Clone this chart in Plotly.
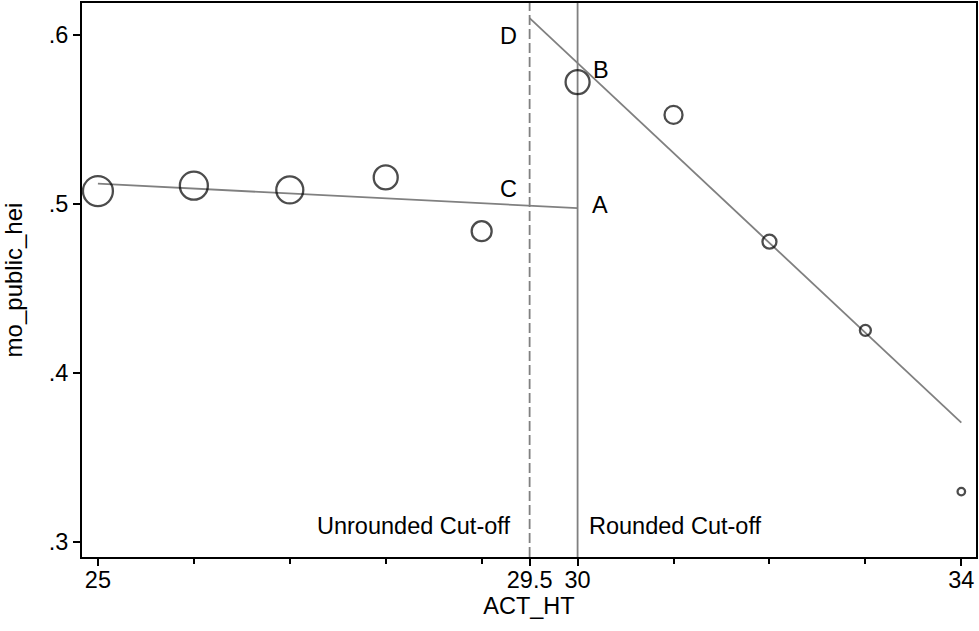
import plotly.graph_objects as go

# ---- data ----
act_ht = [25, 26, 27, 28, 29, 30, 31, 32, 33, 34]
mo_public_hei = [0.5076, 0.5108, 0.5083, 0.5157, 0.4839, 0.5721, 0.5527, 0.4777, 0.4252, 0.3298]
marker_diam = [30, 28, 27, 24, 20, 24, 18, 14, 11, 7.5]

left_fit_x = [25, 30]
left_fit_y = [0.512, 0.4975]
right_fit_x = [29.5, 34]
right_fit_y = [0.6099, 0.3706]

unrounded_cut = 29.5
rounded_cut = 30

x_tickvals = [25, 29.5, 30, 34]
x_ticktext = ["25", "29.5", "30", "34"]
x_minor = [26, 27, 28, 29, 31, 32, 33]
y_tickvals = [0.3, 0.4, 0.5, 0.6]
y_ticktext = [".3", ".4", ".5", ".6"]

labels = [
    ("D", 29.385, 0.5994, "right"),
    ("B", 30.135, 0.5793, "left"),
    ("C", 29.385, 0.5089, "right"),
    ("A", 30.125, 0.4994, "left"),
    ("Unrounded Cut-off", 29.32, 0.3095, "right"),
    ("Rounded Cut-off", 30.094, 0.3095, "left"),
]

FONT = "Liberation Sans, Arial, sans-serif"
FS = 23.5
GRAY = "#808080"
XR = [24.834, 34.153]
YR = [0.2911, 0.6189]

fig = go.Figure()

fig.add_trace(go.Scatter(x=left_fit_x, y=left_fit_y, mode="lines",
                         line=dict(color=GRAY, width=1.8), hoverinfo="skip"))
fig.add_trace(go.Scatter(x=right_fit_x, y=right_fit_y, mode="lines",
                         line=dict(color=GRAY, width=1.8), hoverinfo="skip"))
fig.add_trace(go.Scatter(x=[unrounded_cut, unrounded_cut], y=YR, mode="lines",
                         line=dict(color=GRAY, width=1.8, dash="10px,4px"), hoverinfo="skip"))
fig.add_trace(go.Scatter(x=[rounded_cut, rounded_cut], y=YR, mode="lines",
                         line=dict(color=GRAY, width=1.8), hoverinfo="skip"))

fig.add_trace(go.Scatter(x=act_ht, y=mo_public_hei, mode="markers",
                         marker=dict(symbol="circle-open", size=marker_diam,
                                     color="black", line=dict(color="black", width=2.3))))

for txt, x, y, anchor in labels:
    fig.add_annotation(x=x, y=y, text=txt, showarrow=False, xanchor=anchor,
                       yanchor="middle", font=dict(family=FONT, size=FS, color="black"))

fig.update_layout(
    width=979, height=631,
    margin=dict(l=82, r=1, t=3, b=74),
    paper_bgcolor="white", plot_bgcolor="white",
    showlegend=False,
    font=dict(family=FONT, size=FS, color="black"),
    xaxis=dict(range=XR, tickmode="array", tickvals=x_tickvals, ticktext=x_ticktext,
               ticks="outside", ticklen=7, tickwidth=1.5, tickcolor="black",
               ticklabelstandoff=-6,
               showgrid=False, zeroline=False, showline=True, linecolor="black",
               linewidth=2, mirror=True,
               minor=dict(tickmode="array", tickvals=x_minor, ticks="outside",
                          ticklen=5, tickwidth=1.5, tickcolor="black", showgrid=False),
               title=dict(text="ACT_HT", font=dict(size=FS), standoff=4),
               tickfont=dict(size=FS)),
    yaxis=dict(range=YR, tickmode="array", tickvals=y_tickvals, ticktext=y_ticktext,
               ticks="outside", ticklen=7, tickwidth=1.5, tickcolor="black",
               showgrid=False, zeroline=False, showline=True, linecolor="black",
               linewidth=2, mirror=True,
               title=dict(text="mo_public_hei", font=dict(size=24), standoff=22),
               tickfont=dict(size=FS)),
)

fig.write_html("out.html")
